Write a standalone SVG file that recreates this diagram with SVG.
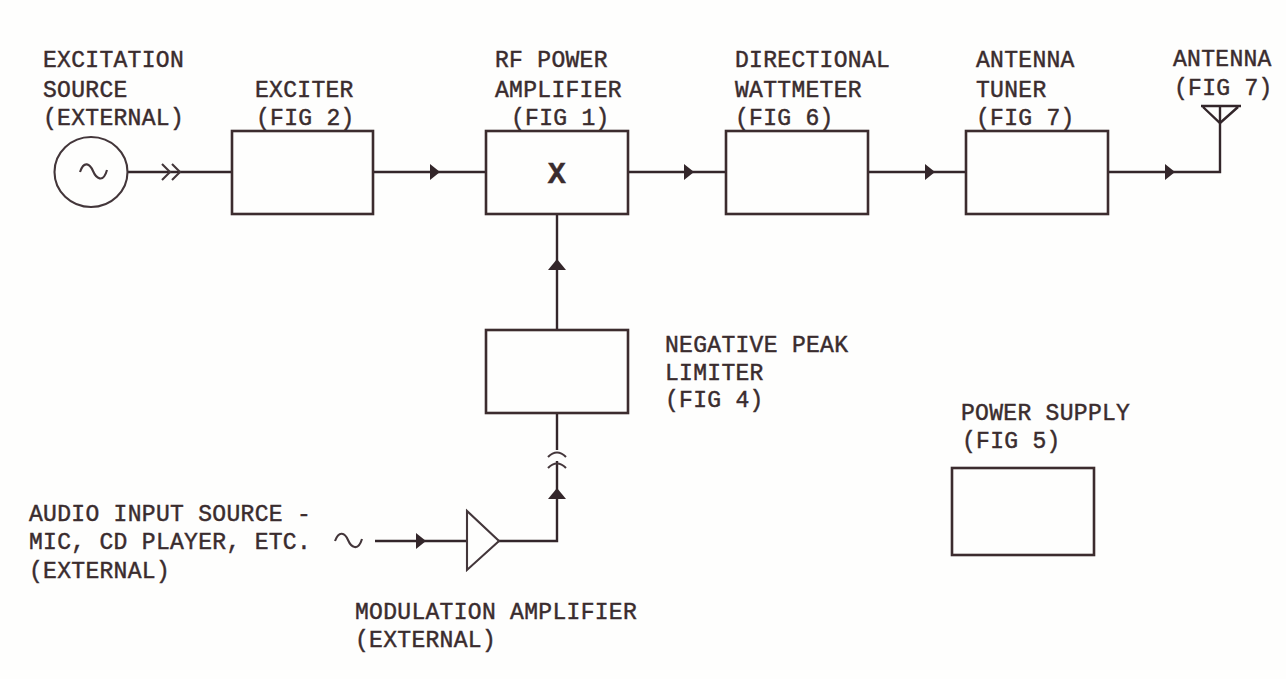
<svg xmlns="http://www.w3.org/2000/svg" width="1286" height="679" viewBox="0 0 1286 679">
<defs>
<style>
text{font-family:"Liberation Mono",monospace;font-size:23px;letter-spacing:.3px;fill:#3a2c2e;stroke:#3a2c2e;stroke-width:.45}
.b{fill:none;stroke:#3c2c2e;stroke-width:2.6}
.l{fill:none;stroke:#33262a;stroke-width:2.4}
.t{fill:none;stroke:#43363a;stroke-width:2.1}
.a{fill:#33262a;stroke:none}
</style>
<path id="ar" class="a" d="M-5-8L5 0L-5 8Z"/>
<path id="au" class="a" d="M-9 5L0-6L9 5Z"/>
</defs>
<rect width="1286" height="679" fill="#fefefd"/>
<g id="connectors">
<path class="l" d="M127 172H231"/>
<path class="t" d="M162 164l8 8l-8 8M172 164l8 8l-8 8"/>
<path class="l" d="M373 172H486"/><use href="#ar" x="435" y="172"/>
<path class="l" d="M628 172H726"/><use href="#ar" x="689" y="172"/>
<path class="l" d="M868 172H966"/><use href="#ar" x="930" y="172"/>
<path class="l" d="M1108 172H1220V106"/><use href="#ar" x="1170" y="172"/>
<path class="l" d="M557 329V214"/><use href="#au" x="557" y="265"/>
<path class="l" d="M557 413V450M557 461V541H498"/><use href="#au" x="557" y="494"/>
<path class="t" d="M548 457q9-9 18 0M548 468q9-9 18 0"/>
<path class="l" d="M375 541H467"/><use href="#ar" x="421" y="541"/>
</g>
<g id="excitation-source"><text x="43" y="67">EXCITATION</text><text x="43" y="97">SOURCE</text><text x="43" y="125">(EXTERNAL)</text>
<ellipse class="t" cx="91" cy="172" rx="36.5" ry="35"/><path class="t" d="M80 172C84 160 90 164 93 171S103 184 107 170"/></g>
<g id="exciter"><rect class="b" x="232" y="131" width="141" height="83"/><text x="255" y="97">EXCITER</text><text x="256" y="125">(FIG 2)</text></g>
<g id="rf-power-amplifier"><rect class="b" x="486" y="131" width="142" height="83"/><text x="495" y="67">RF POWER</text><text x="495" y="97">AMPLIFIER</text><text x="511" y="125">(FIG 1)</text><text x="557" y="183" text-anchor="middle" font-weight="bold" style="font-size:30px">X</text></g>
<g id="directional-wattmeter"><rect class="b" x="726" y="131" width="142" height="83"/><text x="735" y="67">DIRECTIONAL</text><text x="735" y="97">WATTMETER</text><text x="735" y="125">(FIG 6)</text></g>
<g id="antenna-tuner"><rect class="b" x="966" y="131" width="142" height="83"/><text x="976" y="67">ANTENNA</text><text x="976" y="97">TUNER</text><text x="976" y="125">(FIG 7)</text></g>
<g id="antenna"><text x="1173" y="66">ANTENNA</text><text x="1174" y="95">(FIG 7)</text><path class="l" d="M1201 106H1241M1203 107L1220 123L1238 107"/></g>
<g id="negative-peak-limiter"><rect class="b" x="486" y="330" width="142" height="83"/><text x="665" y="352">NEGATIVE PEAK</text><text x="665" y="380">LIMITER</text><text x="665" y="407">(FIG 4)</text></g>
<g id="power-supply"><rect class="b" x="952" y="468" width="142" height="87"/><text x="961" y="420">POWER SUPPLY</text><text x="962" y="448">(FIG 5)</text></g>
<g id="audio-input"><text x="29" y="521">AUDIO INPUT SOURCE -</text><text x="29" y="549">MIC, CD PLAYER, ETC.</text><text x="29" y="578">(EXTERNAL)</text><path class="t" d="M335 541C339 530 345 533 348 540S358 552 362 539"/></g>
<g id="modulation-amplifier"><path class="t" d="M467 511V570L499 541Z"/><text x="355" y="619">MODULATION AMPLIFIER</text><text x="355" y="647">(EXTERNAL)</text></g>
</svg>
